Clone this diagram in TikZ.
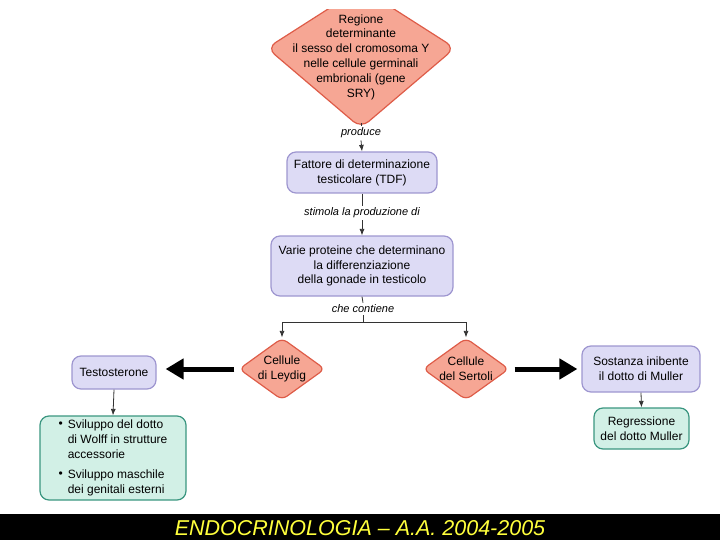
\documentclass[tikz,border=0pt]{standalone}
\usepackage{fontspec}
\setmainfont{Liberation Sans}
\usepackage{xcolor}
\usetikzlibrary{arrows.meta, positioning, shapes.geometric}
\definecolor{salmone}{RGB}{246,166,148}
\definecolor{salmonebordo}{RGB}{222,92,72}
\definecolor{lilla}{RGB}{221,219,245}
\definecolor{lillabordo}{RGB}{158,150,208}
\definecolor{verdino}{RGB}{210,240,230}
\definecolor{verdebordo}{RGB}{58,150,128}
\definecolor{giallo}{RGB}{255,255,60}

\begin{document}
\begin{tikzpicture}[x=1pt, y=-1pt,
    testo/.style={font=\fontsize{12}{14.8}\selectfont, align=center},
    rombo/.style={testo, diamond, draw=salmonebordo, fill=salmone, line width=1.2pt,
        rounded corners=6pt, inner sep=-6pt, minimum width=86pt, minimum height=62pt},
    scatola/.style={testo, rectangle, draw=lillabordo, fill=lilla, line width=1.2pt,
        rounded corners=9pt, inner sep=0pt},
    esito/.style={testo, rectangle, draw=verdebordo, fill=verdino, line width=1.2pt,
        rounded corners=9pt, inner sep=0pt},
    etichetta/.style={font=\fontsize{11}{13}\selectfont\itshape, inner sep=2pt},
    freccia/.style={-{Latex[length=6.5pt,width=5pt]}, draw=black!80, line width=0.8pt},
    linea/.style={draw=black!80, line width=0.8pt},
    frecciona/.style={-{Triangle[length=18pt,width=20pt]}, line width=5pt}]
    \useasboundingbox (0,0) rectangle (720,540);

    % rombo iniziale (tagliato in alto)
    \begin{scope}
        \clip (0,10) rectangle (720,540);
        \draw[draw=salmonebordo, fill=salmone, line width=1.2pt, rounded corners=10pt]
            (267,48) -- (361,-12) -- (455,48) -- (361,128) -- cycle;
    \end{scope}
    \node[testo] (sry) at (361,57) {Regione\\determinante\\il sesso del cromosoma Y\\nelle cellule germinali\\embrionali (gene\\SRY)};
    \coordinate (sryfondo) at (361,123);

    % catena centrale
    \node[etichetta] (produce) at (361,133) {produce};
    \node[scatola, minimum width=150pt, minimum height=41pt] (tdf) at (362,172.5)
        {Fattore di determinazione\\testicolare (TDF)};
    \node[etichetta] (stimola) at (362,213) {stimola la produzione di};
    \node[scatola, minimum width=182pt, minimum height=60pt] (proteine) at (362,266)
        {Varie proteine che determinano\\la differenziazione\\della gonade in testicolo};
    \node[etichetta] (contiene) at (363,309) {che contiene};
    \coordinate (bivio) at (363,322);

    % rombi delle cellule
    \node[rombo] (leydig) at (282,369) {Cellule\\di Leydig};
    \node[rombo] (sertoli) at (466,369) {Cellule\\del Sertoli};

    % ramo sinistro
    \node[scatola, minimum width=84pt, minimum height=33pt] (testosterone) at (114,372.5) {Testosterone};
    \node[esito, minimum width=146pt, minimum height=84pt] (sviluppo) at (113,458) {%
        \begin{tabular}{@{}c@{\hspace{5pt}}l@{}}
            \raisebox{1pt}{\textbullet} & Sviluppo del dotto\\
            & di Wolff in strutture\\
            & accessorie\\[5pt]
            \raisebox{1pt}{\textbullet} & Sviluppo maschile\\
            & dei genitali esterni
        \end{tabular}};

    % ramo destro
    \node[scatola, minimum width=118pt, minimum height=46pt] (muller) at (641,369)
        {Sostanza inibente\\il dotto di Muller};
    \node[esito, minimum width=95pt, minimum height=41pt] (regressione) at (641.5,428.5)
        {Regressione\\del dotto Muller};

    % collegamenti
    \draw[linea] (sryfondo) -- (produce.north);
    \draw[freccia] (produce.south) -- (tdf.north);
    \draw[linea] (tdf.south) -- (stimola.north);
    \draw[freccia] (stimola.south) -- (proteine.north);
    \draw[linea] (proteine.south) -- (contiene.north);
    \draw[linea] (contiene.south) -- (bivio);
    \draw[freccia] (bivio) -| (leydig.north);
    \draw[freccia] (bivio) -| (sertoli.north);
    \draw[freccia] (testosterone.south) -- (sviluppo.north);
    \draw[freccia] (muller.south) -- (regressione.north);

    % frecce grosse
    \draw[frecciona, shorten <=4pt, shorten >=9pt] (leydig.west) -- (leydig.west -| testosterone.east);
    \draw[frecciona, shorten <=5pt, shorten >=4pt] (sertoli.east) -- (sertoli.east -| muller.west);

    % banda in basso
    \fill[black] (0,514) rectangle (720,540);
    \node[font=\fontsize{21.5}{24}\selectfont\itshape, text=giallo] (titolo) at (360,528)
        {ENDOCRINOLOGIA – A.A. 2004-2005};
\end{tikzpicture}
\end{document}
